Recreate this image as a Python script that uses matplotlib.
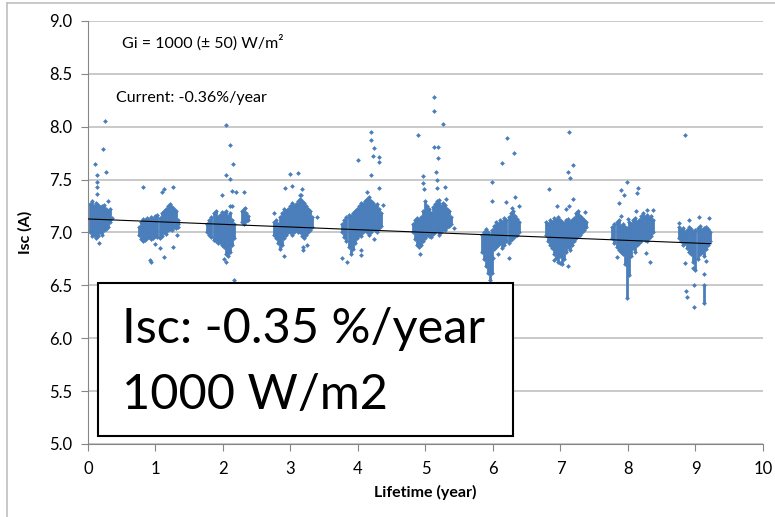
import numpy as np
import matplotlib.pyplot as plt
from matplotlib.lines import Line2D
from matplotlib.patches import Rectangle

plt.rcParams['font.family'] = ['Lato', 'DejaVu Sans']

# dense part of each yearly cloud, read as vertical streaks (x, low, high)
streak_x = [
    [0.03, 0.06, 0.09, 0.12, 0.15, 0.18, 0.21, 0.24, 0.27, 0.30, 0.33],
    [0.76, 0.79, 0.82, 0.85, 0.88, 0.91, 0.94, 0.97, 1.00, 1.03, 1.06, 1.09, 1.12, 1.15, 1.18, 1.21, 1.24, 1.27, 1.30, 1.33],
    [1.77, 1.80, 1.83, 1.86, 1.89, 1.92, 1.95, 1.98, 2.01, 2.04, 2.07, 2.10, 2.13, 2.16, 2.28, 2.31, 2.34, 2.37],
    [2.75, 2.78, 2.81, 2.84, 2.87, 2.90, 2.93, 2.96, 2.99, 3.02, 3.05, 3.08, 3.11, 3.14, 3.17, 3.20, 3.23, 3.26, 3.29, 3.32],
    [3.77, 3.80, 3.83, 3.86, 3.89, 3.92, 3.95, 3.98, 4.01, 4.04, 4.07, 4.10, 4.13, 4.16, 4.19, 4.22, 4.25, 4.28, 4.31, 4.34],
    [4.81, 4.84, 4.87, 4.90, 4.93, 4.96, 4.99, 5.02, 5.05, 5.08, 5.11, 5.14, 5.17, 5.20, 5.23, 5.26, 5.29, 5.32, 5.35, 5.38],
    [5.84, 5.87, 5.90, 5.93, 5.96, 5.99, 6.02, 6.05, 6.08, 6.11, 6.14, 6.17, 6.20, 6.23, 6.26, 6.29, 6.32, 6.35, 6.38],
    [6.78, 6.81, 6.84, 6.87, 6.90, 6.93, 6.96, 6.99, 7.02, 7.05, 7.08, 7.11, 7.14, 7.17, 7.20, 7.23, 7.26, 7.29, 7.32, 7.35, 7.38],
    [7.77, 7.80, 7.83, 7.86, 7.89, 7.92, 7.95, 7.98, 8.01, 8.04, 8.07, 8.10, 8.13, 8.16, 8.19, 8.22, 8.25, 8.28, 8.31, 8.34, 8.37],
    [8.76, 8.79, 8.82, 8.85, 8.88, 8.91, 8.94, 8.97, 9.00, 9.03, 9.06, 9.09, 9.12, 9.15, 9.18, 9.21, 9.12],
]
streak_lo = [
    [7.00, 6.97, 6.98, 6.95, 6.97, 7.00, 6.98, 7.02, 7.03, 7.05, 7.10],
    [6.98, 6.94, 6.92, 6.93, 6.95, 6.96, 6.94, 6.95, 6.97, 6.96, 6.95, 6.97, 7.00, 6.99, 7.02, 7.03, 7.02, 7.05, 7.04, 7.08],
    [7.00, 6.98, 6.96, 6.93, 6.92, 6.90, 6.91, 6.88, 6.86, 6.80, 6.78, 6.82, 6.88, 6.95, 7.10, 7.08, 7.11, 7.12],
    [6.98, 6.95, 6.90, 6.84, 6.88, 6.95, 6.98, 7.00, 7.00, 6.98, 7.00, 7.02, 7.00, 7.00, 6.97, 6.95, 6.98, 7.00, 7.02, 7.05],
    [7.00, 6.96, 6.92, 6.86, 6.80, 6.84, 6.90, 6.95, 6.98, 6.97, 7.00, 7.02, 7.00, 6.98, 7.00, 7.03, 7.02, 7.00, 7.04, 7.06],
    [7.00, 6.94, 6.88, 6.86, 6.88, 6.92, 6.95, 6.98, 6.97, 6.96, 6.99, 7.00, 7.02, 6.98, 7.00, 7.03, 7.02, 7.05, 7.06, 7.08],
    [6.82, 6.75, 6.68, 6.62, 6.55, 6.62, 6.84, 6.86, 6.88, 6.90, 6.85, 6.88, 6.92, 6.90, 6.93, 6.95, 6.97, 6.98, 7.00],
    [6.98, 6.92, 6.88, 6.85, 6.80, 6.76, 6.72, 6.78, 6.70, 6.75, 6.82, 6.86, 6.83, 6.88, 6.92, 6.95, 6.97, 6.98, 7.00, 7.02, 7.05],
    [6.95, 6.90, 6.86, 6.83, 6.82, 6.80, 6.70, 6.38, 6.60, 6.78, 6.85, 6.82, 6.88, 6.90, 6.92, 6.95, 6.93, 6.92, 6.95, 6.97, 7.00],
    [6.95, 6.92, 6.88, 6.90, 6.85, 6.82, 6.80, 6.72, 6.65, 6.75, 6.80, 6.82, 6.78, 6.84, 6.88, 6.92, 6.33],
]
streak_hi = [
    [7.27, 7.30, 7.25, 7.28, 7.26, 7.24, 7.25, 7.26, 7.22, 7.20, 7.22],
    [7.05, 7.10, 7.13, 7.12, 7.14, 7.12, 7.15, 7.13, 7.16, 7.17, 7.14, 7.18, 7.20, 7.22, 7.25, 7.27, 7.24, 7.22, 7.20, 7.12],
    [7.08, 7.12, 7.15, 7.18, 7.20, 7.15, 7.17, 7.19, 7.18, 7.20, 7.16, 7.18, 7.12, 7.08, 7.20, 7.22, 7.18, 7.16],
    [7.10, 7.12, 7.08, 7.15, 7.18, 7.22, 7.20, 7.22, 7.25, 7.28, 7.25, 7.27, 7.30, 7.32, 7.30, 7.28, 7.25, 7.22, 7.20, 7.15],
    [7.08, 7.12, 7.15, 7.17, 7.16, 7.18, 7.20, 7.22, 7.25, 7.28, 7.27, 7.30, 7.32, 7.34, 7.30, 7.28, 7.25, 7.27, 7.22, 7.18],
    [7.08, 7.12, 7.14, 7.12, 7.15, 7.20, 7.30, 7.25, 7.22, 7.18, 7.24, 7.27, 7.30, 7.28, 7.25, 7.28, 7.26, 7.22, 7.20, 7.15],
    [6.98, 7.00, 7.03, 7.00, 6.98, 7.02, 7.06, 7.10, 7.08, 7.12, 7.10, 7.14, 7.12, 7.15, 7.18, 7.20, 7.16, 7.13, 7.10],
    [7.10, 7.08, 7.12, 7.10, 7.14, 7.12, 7.15, 7.12, 7.10, 7.09, 7.12, 7.13, 7.10, 7.12, 7.14, 7.18, 7.20, 7.16, 7.14, 7.12, 7.10],
    [7.05, 7.08, 7.10, 7.12, 7.06, 7.08, 7.05, 7.04, 7.10, 7.08, 7.12, 7.14, 7.10, 7.12, 7.16, 7.18, 7.15, 7.17, 7.14, 7.16, 7.12],
    [7.05, 7.02, 7.04, 7.00, 7.02, 7.05, 7.03, 7.00, 7.02, 7.04, 7.06, 7.02, 7.04, 7.05, 7.02, 7.00, 6.50],
]

# scattered single readings around the clouds
out_x = [-0.03, 0.10, 0.23, 0.25, 0.26, 0.13, 0.13, 0.13, 0.13, 0.16, 0.30, 0.36,
         0.81, 1.13, 1.09, 1.26, 0.92, 1.13, 1.26, 1.00, 1.07, 1.32, 1.34, 0.93,
         2.05, 2.11, 2.15, 2.05, 2.11, 1.99, 2.13, 2.19, 2.31, 2.17, 2.10, 2.13, 2.33, 2.02, 2.05,
         3.00, 3.11, 2.92, 3.03, 3.17, 2.75, 2.90, 3.19, 3.19, 3.14, 3.16, 3.39, 3.24,
         4.20, 4.20, 4.24, 4.23, 4.31, 4.31, 4.00, 4.20, 4.31, 4.13, 4.37, 4.24, 4.05, 4.05, 3.77, 3.84,
         5.13, 5.13, 5.26, 4.89, 5.13, 5.19, 5.18, 4.97, 4.97, 4.98, 5.16, 5.17, 5.17, 5.29, 5.31, 5.42, 5.20, 4.92,
         6.21, 6.31, 6.13, 5.98, 5.98, 6.20, 6.33, 6.39, 6.28, 6.23, 6.00, 6.08, 5.95,
         7.12, 7.18, 7.11, 7.14, 6.83, 7.18, 6.95, 7.08, 7.13, 7.36, 7.00, 7.11, 6.90,
         7.99, 7.90, 7.94, 7.86, 8.15, 8.14, 7.89, 8.12, 8.28, 8.37, 8.00, 8.32, 8.27, 7.83,
         8.85, 8.76, 8.91, 9.05, 9.20, 9.19, 8.84, 8.98, 8.86, 8.87, 8.98, 9.12, 9.16, 8.97]
out_y = [7.35, 7.65, 7.79, 8.05, 7.57, 7.54, 7.48, 7.43, 7.36, 6.90, 7.30, 7.14,
         7.43, 7.41, 7.38, 7.43, 6.74, 6.77, 6.86, 6.89, 6.85, 6.98, 7.05, 6.72,
         8.02, 7.83, 7.65, 7.54, 7.51, 7.35, 7.39, 7.38, 7.38, 6.55, 7.25, 7.25, 7.23, 6.75, 6.72,
         7.55, 7.56, 7.42, 7.44, 7.41, 7.18, 6.78, 6.83, 6.86, 7.35, 7.35, 7.15, 6.88,
         7.95, 7.87, 7.80, 7.72, 7.71, 7.67, 7.69, 7.54, 7.42, 7.38, 7.26, 6.94, 6.83, 6.79, 6.76, 6.72,
         8.28, 8.15, 8.03, 7.92, 7.81, 7.81, 7.70, 7.53, 7.47, 7.41, 7.57, 7.50, 7.42, 7.43, 7.32, 7.04, 7.31, 6.80,
         7.89, 7.75, 7.66, 7.48, 7.30, 7.29, 7.34, 7.25, 7.23, 6.76, 6.76, 6.80, 6.52,
         7.95, 7.64, 7.57, 7.52, 7.41, 7.32, 7.25, 7.22, 7.25, 7.19, 6.71, 6.68, 6.74,
         7.48, 7.40, 7.35, 7.28, 7.42, 7.37, 7.16, 7.20, 7.21, 7.21, 7.13, 6.72, 6.81, 6.77,
         7.92, 7.09, 7.12, 7.15, 7.14, 7.03, 6.71, 6.50, 6.45, 6.39, 6.30, 6.61, 6.73, 6.66]

# linear trend drawn by the spreadsheet
trend_x = [0.0, 9.23]
trend_y = [7.128, 6.894]

blue = '#4a7ebb'

fig = plt.figure(figsize=(7.75, 5.17), dpi=100)
ax = fig.add_axes([0.1135, 0.1412, 0.871, 0.8182])

for xs, lo, hi in zip(streak_x, streak_lo, streak_hi):
    ax.vlines(xs, lo, hi, colors=blue, linewidth=2.0, zorder=2)
    ax.scatter(xs, lo, s=6, marker='D', color=blue, linewidths=0, zorder=2)
    ax.scatter(xs, hi, s=6, marker='D', color=blue, linewidths=0, zorder=2)
ax.scatter(out_x, out_y, s=6, marker='D', color=blue, linewidths=0, zorder=2)
ax.plot(trend_x, trend_y, color='black', linewidth=0.8, zorder=3)

ax.set_xlim(0, 10)
ax.set_ylim(5.0, 9.0)
ax.set_xticks(range(0, 11))
ax.set_yticks(np.arange(5.0, 9.01, 0.5))
ax.set_yticklabels(['%.1f' % v for v in np.arange(5.0, 9.01, 0.5)])
ax.yaxis.grid(True, color='#c0c0c0', linewidth=1.2)
ax.set_axisbelow(True)
for s in ['top', 'right']:
    ax.spines[s].set_visible(False)
for s in ['left', 'bottom']:
    ax.spines[s].set_color('#868686')
ax.tick_params(axis='both', colors='#868686', labelcolor='black', labelsize=12, length=5, direction='out')
ax.tick_params(axis='x', pad=7)
ax.tick_params(axis='y', pad=6)

ax.set_xlabel('Lifetime (year)', fontsize=11.5, fontweight='bold', labelpad=6)
ax.set_ylabel('Isc (A)', fontsize=11.5, fontweight='bold', labelpad=12)

ax.text(122, 517 - 43, 'Gi = 1000 (± 50) W/m²', transform=None, fontsize=11.5, va='center', ha='left')
ax.text(116, 517 - 98, 'Current: -0.36%/year', transform=None, fontsize=11.5, va='center', ha='left')

# boxed result label
box = Rectangle((98, 517 - 436), 415, 153, transform=None, facecolor='white', edgecolor='black', linewidth=1.5, zorder=5)
fig.patches.append(box)
fig.text(122, 517 - 343, 'Isc: -0.35 %/year', transform=None, fontsize=35, va='baseline', ha='left', zorder=6)
fig.text(122, 517 - 409, '1000 W/m2', transform=None, fontsize=35, va='baseline', ha='left', zorder=6)

# chart area frame (top and left edges visible)
fig.add_artist(Line2D([0.009, 1.0], [0.994, 0.994], transform=fig.transFigure, color='#bfbfbf', linewidth=1.2))
fig.add_artist(Line2D([0.009, 0.009], [0.0, 0.994], transform=fig.transFigure, color='#bfbfbf', linewidth=1.2))

fig.savefig('out.png', dpi=100)
